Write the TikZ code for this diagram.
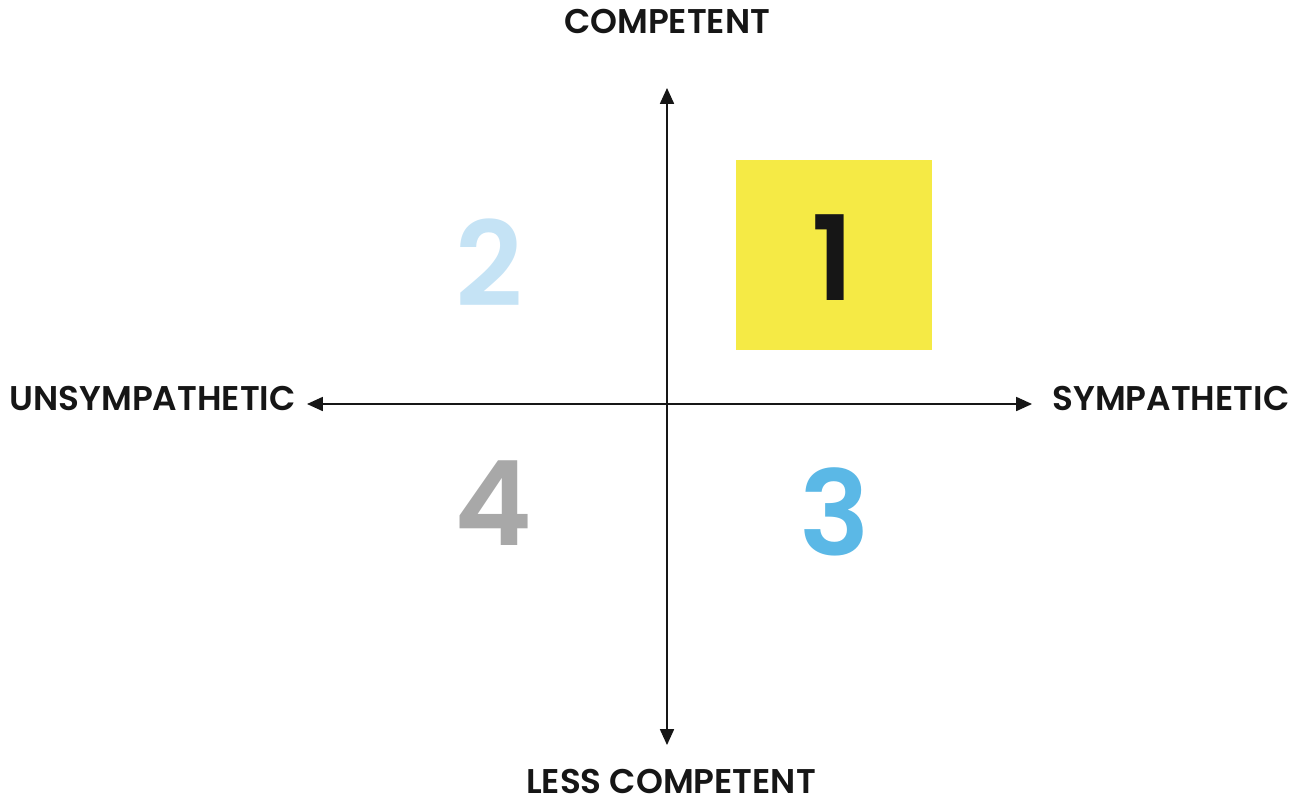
\documentclass[tikz,border=0pt]{standalone}
\usepackage{fontspec}
\setmainfont{Poppins}[UprightFont=* SemiBold, BoldFont=* Bold]
\usetikzlibrary{arrows.meta}

\definecolor{quadyellow}{HTML}{F5EA45}
\definecolor{paleblue}{HTML}{C5E3F5}
\definecolor{skyblue}{HTML}{5BB8E6}
\definecolor{midgrey}{HTML}{A8A8A8}
\definecolor{inkblack}{HTML}{161616}

\tikzset{
  axis/.style={line width=0.8pt, draw=inkblack, -{Triangle[length=9pt, width=8pt]}},
  axislabel/.style={font=\fontsize{19.5}{22}\selectfont, text=inkblack, inner sep=0pt},
  quadnum/.style={font=\fontsize{67}{70}\selectfont, inner sep=0pt}
}

\begin{document}
\begin{tikzpicture}[x=0.02cm, y=-0.02cm]
  \useasboundingbox (0,0) rectangle (1291,802);

  \node (O) at (667,404) {};
  \coordinate (top) at (667,88);
  \coordinate (bottom) at (667,745);
  \coordinate (left) at (307,404);
  \coordinate (right) at (1032,404);

  \fill[quadyellow] (736,160) rectangle (932,350);

  \draw[axis] (O.center) -- (top);
  \draw[axis] (O.center) -- (bottom);
  \draw[axis] (O.center) -- (left);
  \draw[axis] (O.center) -- (right);

  \node[axislabel, anchor=base] (comp) at (667,33) {COMPETENT};
  \node[axislabel, anchor=base] (less) at (671,793) {LESS COMPETENT};
  \node[axislabel, anchor=base east] (unsym) at (296,410) {UNSYMPATHETIC};
  \node[axislabel, anchor=base west] (sym) at (1052,410) {SYMPATHETIC};

  \node[quadnum, text=inkblack] (one) at (833,258) {1};
  \node[quadnum, text=paleblue] (two) at (489,263) {2};
  \node[quadnum, text=skyblue] (three) at (835,512) {3};
  \node[quadnum, text=midgrey] (four) at (493,503) {4};
\end{tikzpicture}
\end{document}
